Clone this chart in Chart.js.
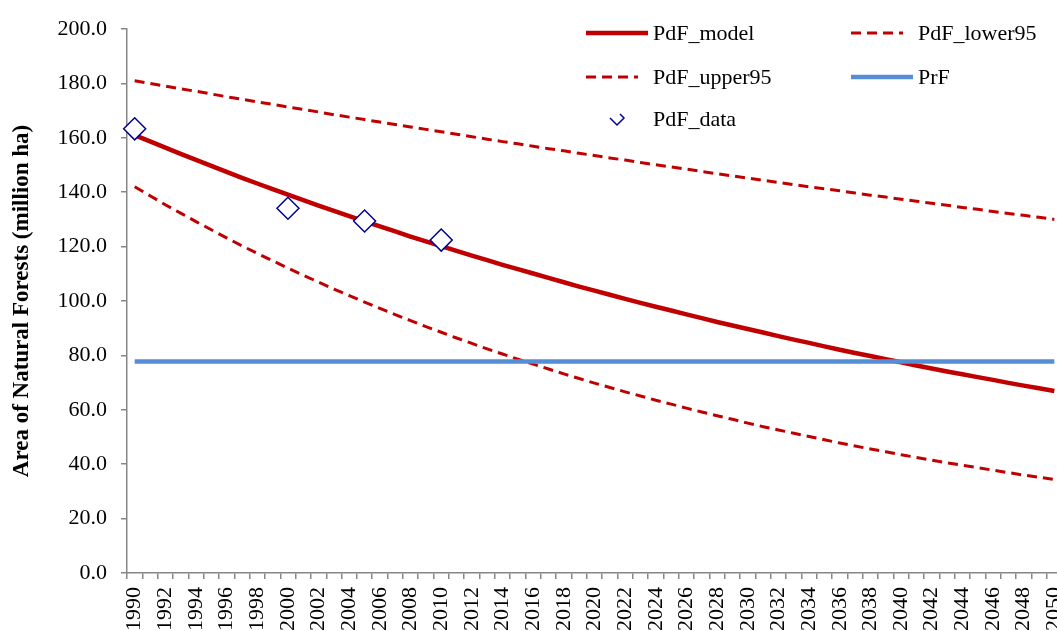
<!DOCTYPE html>
<html>
<head>
<meta charset="utf-8">
<script src="https://cdn.jsdelivr.net/npm/chart.js@4.4.1/dist/chart.umd.min.js"></script>
<style>
  html, body { margin: 0; padding: 0; background: #fff; overflow: hidden; }
  canvas { display: block; }
</style>
</head>
<body>
<canvas id="forestChart" width="1062" height="631"></canvas>
<script>
// years on the category axis
const years = [
  '1990','1991','1992','1993','1994','1995','1996','1997','1998','1999',
  '2000','2001','2002','2003','2004','2005','2006','2007','2008','2009',
  '2010','2011','2012','2013','2014','2015','2016','2017','2018','2019',
  '2020','2021','2022','2023','2024','2025','2026','2027','2028','2029',
  '2030','2031','2032','2033','2034','2035','2036','2037','2038','2039',
  '2040','2041','2042','2043','2044','2045','2046','2047','2048','2049',
  '2050'
];

// values (million ha)
const pdfModel = [
  161.0,158.7,156.4,154.1,151.9,149.7,147.5,145.3,143.2,141.1,
  139.1,137.1,135.1,133.1,131.2,129.3,127.4,125.6,123.7,121.9,
  120.2,118.4,116.7,115.0,113.3,111.7,110.1,108.5,106.9,105.3,
  103.8,102.3,100.8,99.3,97.9,96.5,95.1,93.7,92.3,91.0,
  89.7,88.4,87.1,85.8,84.6,83.3,82.1,80.9,79.8,78.6,
  77.5,76.3,75.2,74.1,73.1,72.0,71.0,69.9,68.9,67.9,
  66.9
];
const pdfLower95 = [
  142.0,138.7,135.4,132.3,129.2,126.2,123.2,120.3,117.5,114.8,
  112.1,109.5,106.9,104.4,102.0,99.6,97.3,95.0,92.8,90.6,
  88.5,86.4,84.4,82.4,80.5,78.6,76.8,75.0,73.2,71.5,
  69.8,68.2,66.6,65.1,63.5,62.1,60.6,59.2,57.8,56.5,
  55.1,53.8,52.6,51.4,50.2,49.0,47.8,46.7,45.6,44.6,
  43.5,42.5,41.5,40.5,39.6,38.7,37.8,36.9,36.0,35.2,
  34.4
];
const pdfUpper95 = [
  181.0,180.0,179.0,178.0,177.1,176.1,175.1,174.2,173.2,172.3,
  171.3,170.4,169.5,168.5,167.6,166.7,165.8,164.9,164.0,163.1,
  162.2,161.3,160.4,159.5,158.6,157.8,156.9,156.0,155.2,154.3,
  153.5,152.6,151.8,150.9,150.1,149.3,148.5,147.6,146.8,146.0,
  145.2,144.4,143.6,142.8,142.0,141.3,140.5,139.7,138.9,138.2,
  137.4,136.7,135.9,135.2,134.4,133.7,132.9,132.2,131.5,130.8,
  130.0
];
const prf = [
  77.8,77.8,77.8,77.8,77.8,77.8,77.8,77.8,77.8,77.8,
  77.8,77.8,77.8,77.8,77.8,77.8,77.8,77.8,77.8,77.8,
  77.8,77.8,77.8,77.8,77.8,77.8,77.8,77.8,77.8,77.8,
  77.8,77.8,77.8,77.8,77.8,77.8,77.8,77.8,77.8,77.8,
  77.8,77.8,77.8,77.8,77.8,77.8,77.8,77.8,77.8,77.8,
  77.8,77.8,77.8,77.8,77.8,77.8,77.8,77.8,77.8,77.8,
  77.8
];
const dataYears = ['1990', '2000', '2005', '2010'];
const dataValues = [163.3, 134.1, 129.4, 122.4];

const serif = 'Liberation Serif';
const axisGray = '#868686';

// legend drawn inside the plot, two columns like the original
const insideLegend = {
  id: 'insideLegend',
  afterDraw(chart) {
    const ctx = chart.ctx;
    const ds = chart.data.datasets;
    const items = [
      { i: 0, x: 586, y: 33, len: 62, tx: 653 },
      { i: 1, x: 851, y: 33, len: 52, tx: 918 },
      { i: 2, x: 586, y: 77, len: 52, tx: 653 },
      { i: 3, x: 851, y: 77, len: 62, tx: 918 },
      { i: 4, x: 610, y: 119, len: 0, tx: 653 }
    ];
    ctx.save();
    items.forEach(it => {
      const d = ds[it.i];
      if (it.len > 0) {
        ctx.beginPath();
        ctx.strokeStyle = d.borderColor;
        ctx.lineWidth = d.borderWidth;
        ctx.setLineDash(d.borderDash || []);
        ctx.moveTo(it.x, it.y);
        ctx.lineTo(it.x + it.len, it.y);
        ctx.stroke();
      } else {
        // clipped diamond marker
        ctx.beginPath();
        ctx.setLineDash([]);
        ctx.strokeStyle = d.borderColor;
        ctx.lineWidth = 1.5;
        ctx.moveTo(it.x, it.y - 1);
        ctx.lineTo(it.x + 7, it.y + 6);
        ctx.lineTo(it.x + 14, it.y - 1);
        ctx.lineTo(it.x + 10, it.y - 5);
        ctx.stroke();
      }
      ctx.setLineDash([]);
      ctx.fillStyle = '#000';
      ctx.font = '22px "' + serif + '"';
      ctx.textBaseline = 'middle';
      ctx.textAlign = 'left';
      ctx.fillText(d.label, it.tx, it.y + 1);
    });
    ctx.restore();
  }
};

const ctx = document.getElementById('forestChart').getContext('2d');
const forestChart = new Chart(ctx, {
  type: 'line',
  data: {
    labels: years,
    datasets: [
      {
        label: 'PdF_model',
        data: pdfModel,
        borderColor: '#C00000',
        borderWidth: 4.5,
        pointRadius: 0,
        order: 5
      },
      {
        label: 'PdF_lower95',
        data: pdfLower95,
        borderColor: '#C00000',
        borderWidth: 3,
        borderDash: [10, 6],
        pointRadius: 0,
        order: 4
      },
      {
        label: 'PdF_upper95',
        data: pdfUpper95,
        borderColor: '#C00000',
        borderWidth: 3,
        borderDash: [10, 6],
        pointRadius: 0,
        order: 3
      },
      {
        label: 'PrF',
        data: prf,
        borderColor: '#558ED5',
        borderWidth: 4.5,
        pointRadius: 0,
        order: 2
      },
      {
        label: 'PdF_data',
        data: dataYears.map((y, i) => ({ x: y, y: dataValues[i] })),
        showLine: false,
        pointStyle: 'rectRot',
        pointRadius: 11,
        pointBorderWidth: 1.5,
        borderColor: '#000099',
        pointBorderColor: '#000099',
        pointBackgroundColor: '#ffffff',
        order: 1
      }
    ]
  },
  options: {
    responsive: false,
    animation: false,
    layout: { autoPadding: false, padding: { top: 29, right: 0, left: 0, bottom: 0 } },
    plugins: {
      legend: { display: false },
      tooltip: { enabled: false }
    },
    scales: {
      x: {
        offset: true,
        grid: {
          offset: true,
          drawOnChartArea: false,
          tickLength: 6,
          color: axisGray,
          lineWidth: 1.5
        },
        border: { color: axisGray, width: 1.5 },
        ticks: {
          autoSkip: false,
          minRotation: 90,
          maxRotation: 90,
          padding: 8,
          color: '#000',
          font: { family: serif, size: 22 },
          callback: (v, i) => (i % 2 === 0 ? years[i] : '')
        },
        afterFit: s => { s.height = 58; s.paddingLeft = 0; s.paddingRight = 0; }
      },
      y: {
        min: 0,
        max: 200,
        grid: {
          drawOnChartArea: false,
          tickLength: 6,
          color: axisGray,
          lineWidth: 1.5
        },
        border: { color: axisGray, width: 1.5 },
        ticks: {
          stepSize: 20,
          padding: 14,
          color: '#000',
          font: { family: serif, size: 22 },
          callback: v => v.toFixed(1)
        },
        title: {
          display: true,
          text: 'Area of Natural Forests (million ha)',
          color: '#000',
          font: { family: serif, size: 23, weight: 'bold' },
          padding: { top: 8, bottom: 0 }
        },
        afterFit: s => { s.width = 127; }
      }
    }
  },
  plugins: [insideLegend]
});
</script>
</body>
</html>
